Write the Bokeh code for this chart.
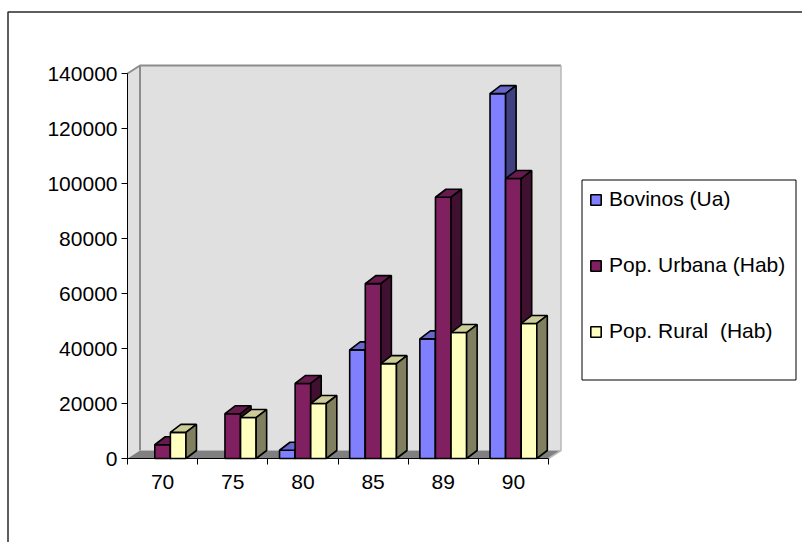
from bokeh.plotting import figure
from bokeh.models import (Range1d, FixedTicker, BasicTickFormatter, Legend,
                          LegendItem, BoxAnnotation)
from bokeh.embed import file_html
from bokeh.resources import INLINE

# ---- data -------------------------------------------------------------
years = ["70", "75", "80", "85", "89", "90"]
bovinos = [None, None, 3000, 39500, 43500, 132700]
pop_urbana = [5000, 16300, 27300, 63600, 95000, 101800]
pop_rural = [9500, 14900, 20000, 34500, 45800, 49100]
series_names = ["Bovinos (Ua)", "Pop. Urbana (Hab)", "Pop. Rural  (Hab)"]
y_ticks = [0, 20000, 40000, 60000, 80000, 100000, 120000, 140000]

# ---- colours (front, top, side) ---------------------------------------
front_colors = ["#8080FF", "#802060", "#FFFFC0"]
top_colors = ["#6666CC", "#661A4D", "#CCCC99"]
side_colors = ["#404080", "#401030", "#808060"]

# ---- layout -----------------------------------------------------------
W, H = 802, 542
AX_X, AX_Y = 127, 458          # where the value axis and category axis sit
CAT_PX = 421 / 6               # pixels per category slot
VAL_PX = 385 / 140000          # pixels per unit of value
FONT = "Liberation Sans"
FONT_SIZE = "21px"


def px_x(px):
    return (px - AX_X) / CAT_PX


def px_y(py):
    return (AX_Y - py) / VAL_PX


WALL_DX, WALL_DY = 12.5 / CAT_PX, 8 / VAL_PX
BAR_DX, BAR_DY = 10.5 / CAT_PX, 8 / VAL_PX
BAR_W = 1 / 4.5
BAR_OFF = 0.75 * BAR_W
N = len(years)
Y_TOP = y_ticks[-1]

p = figure(width=W, height=H, output_backend="svg", toolbar_location=None,
           x_range=Range1d(px_x(0), px_x(W)), y_range=Range1d(px_y(H), px_y(0)),
           min_border=0)
p.outline_line_color = None
p.grid.visible = False
p.background_fill_color = "white"
p.border_fill_color = "white"

# ---- walls and floor --------------------------------------------------
wall_fill = "#E0E0E0"
p.patch([WALL_DX, N + WALL_DX, N + WALL_DX, WALL_DX],
        [WALL_DY, WALL_DY, Y_TOP + WALL_DY, Y_TOP + WALL_DY],
        fill_color=wall_fill, line_color=None)
p.patch([0, WALL_DX, WALL_DX, 0],
        [0, WALL_DY, Y_TOP + WALL_DY, Y_TOP],
        fill_color=wall_fill, line_color=None)
p.patch([0, N, N + WALL_DX, WALL_DX],
        [0, 0, WALL_DY, WALL_DY],
        fill_color="#808080", line_color=None)
p.line([0, WALL_DX, N + WALL_DX], [Y_TOP, Y_TOP + WALL_DY, Y_TOP + WALL_DY],
       line_color="#8C8C8C", line_width=2)
p.line([WALL_DX, WALL_DX], [WALL_DY, Y_TOP + WALL_DY],
       line_color="#8C8C8C", line_width=2)
p.line([N, N + WALL_DX, N + WALL_DX], [0, WALL_DY, Y_TOP + WALL_DY],
       line_color="#B8B8B8", line_width=1.5)

# ---- 3-D columns ------------------------------------------------------
front_renderers = []
for s, vals in enumerate([bovinos, pop_urbana, pop_rural]):
    lefts, rights, tops = [], [], []
    top_xs, top_ys, side_xs, side_ys = [], [], [], []
    for i, v in enumerate(vals):
        if v is None:
            continue
        l = i + BAR_OFF + s * BAR_W
        r = l + BAR_W
        lefts.append(l)
        rights.append(r)
        tops.append(v)
        top_xs.append([l, l + BAR_DX, r + BAR_DX, r])
        top_ys.append([v, v + BAR_DY, v + BAR_DY, v])
        side_xs.append([r, r + BAR_DX, r + BAR_DX, r])
        side_ys.append([0, BAR_DY, v + BAR_DY, v])
    fr = p.quad(left=lefts, right=rights, top=tops, bottom=0,
                fill_color=front_colors[s], line_color="black", line_width=1.6)
    p.patches(top_xs, top_ys, fill_color=top_colors[s],
              line_color="black", line_width=1.6)
    p.patches(side_xs, side_ys, fill_color=side_colors[s],
              line_color="black", line_width=1.6)
    front_renderers.append(fr)

# ---- axes -------------------------------------------------------------
yax = p.yaxis[0]
yax.fixed_location = 0
yax.bounds = (0, Y_TOP)
yax.ticker = FixedTicker(ticks=y_ticks, minor_ticks=[])
yax.formatter = BasicTickFormatter(use_scientific=False)
yax.major_tick_in = 0
yax.major_tick_out = 6
yax.minor_tick_line_color = None
yax.major_label_standoff = 4
yax.axis_line_color = "black"
yax.major_label_text_font = FONT
yax.major_label_text_font_size = FONT_SIZE
yax.major_label_text_color = "black"

xax = p.xaxis[0]
xax.fixed_location = 0
xax.bounds = (0, N)
centers = [i + 0.5 for i in range(N)]
xax.ticker = FixedTicker(ticks=centers, minor_ticks=list(range(N + 1)))
xax.major_label_overrides = {c: y for c, y in zip(centers, years)}
xax.major_tick_line_color = None
xax.minor_tick_in = 0
xax.minor_tick_out = 6
xax.minor_tick_line_color = "black"
xax.major_label_standoff = 10
xax.axis_line_color = "black"
xax.major_label_text_font = FONT
xax.major_label_text_font_size = FONT_SIZE
xax.major_label_text_color = "black"

# ---- chart-area border and legend -------------------------------------
p.add_layout(BoxAnnotation(left=px_x(7.5), right=px_x(W + 20),
                           top=px_y(11.5), bottom=px_y(H + 20),
                           fill_alpha=0, line_color="#2A2A2A",
                           line_alpha=1, line_width=1.5))
p.add_layout(BoxAnnotation(left=px_x(581.5), right=px_x(795.5),
                           top=px_y(179.5), bottom=px_y(379.5),
                           fill_color="white", fill_alpha=1,
                           line_color="black", line_alpha=1, line_width=1))

legend = Legend(
    items=[LegendItem(label=n, renderers=[r])
           for n, r in zip(series_names, front_renderers)],
    location=(589, 199), orientation="vertical",
    glyph_width=13, glyph_height=13, label_height=24, spacing=42,
    padding=0, margin=0, label_standoff=7,
    border_line_color=None, background_fill_alpha=0,
    label_text_font=FONT, label_text_font_size=FONT_SIZE,
    label_text_color="black")
p.add_layout(legend)

open("out.html", "w").write(file_html(p, INLINE))
